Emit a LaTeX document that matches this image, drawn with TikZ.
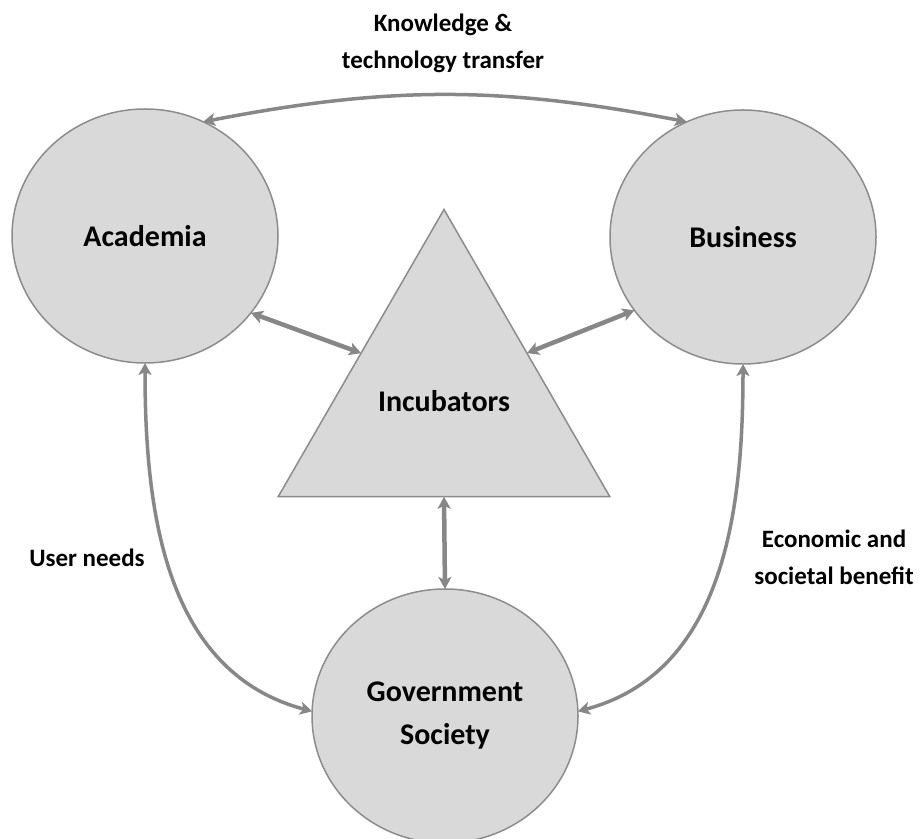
\documentclass[tikz,border=0pt]{standalone}
\usepackage{fontspec}
\setmainfont{Carlito}
\usepackage{xcolor}
\usetikzlibrary{shapes,arrows.meta,positioning}

\definecolor{fillgray}{HTML}{D9D9D9}
\definecolor{edgegray}{HTML}{8C8C8C}
\definecolor{arrowgray}{HTML}{878787}

\begin{document}
\begin{tikzpicture}[x=1pt, y=1pt, >={Stealth[length=12pt,width=13pt,inset=3pt]}]
\tikzstyle{actor} = [ellipse, draw=edgegray, fill=fillgray, line width=1.5pt, outer sep=0pt, minimum width=266pt, minimum height=254pt, align=center, font=\fontsize{30}{43}\selectfont\bfseries]
\tikzstyle{hub} = [regular polygon, regular polygon sides=3, draw=edgegray, fill=fillgray, line width=1.5pt, inner sep=0pt, outer sep=0pt, minimum size=383pt, font=\fontsize{30}{43}\selectfont\bfseries]
\tikzstyle{note} = [align=center, font=\fontsize{25}{37}\selectfont\bfseries]
\tikzstyle{link} = [draw=arrowgray, line width=4.5pt, <->]
\tikzstyle{bow} = [draw=arrowgray, line width=3.5pt, <->]

\useasboundingbox (0,0) rectangle (923,838);

\node [actor] (aca) at (145,602) {Academia};
\node [actor] (bus) at (743,601) {Business};
\node [actor] (gov) at (445,122) {Government\\Society};
\node [hub] (inc) at (444,437) {Incubators};

\node [note] (ktt) at (443,795) {Knowledge \&\\technology transfer};
\node [note] (user) at (87,280) {User needs};
\node [note] (econ) at (834,281) {Economic and\\societal benefit};

\path [link] (aca.-36) -- (inc.side 1);
\path [link] (bus.-146) -- (inc.side 3);
\path [link] (inc.side 2) -- (gov.north);
\path [bow] (aca.63) to[bend left=11] (bus.116);
\path [bow] (aca.south) to[out=-90, in=165] (gov.178);
\path [bow] (bus.south) to[out=-90, in=15] (gov.2);
\end{tikzpicture}
\end{document}
